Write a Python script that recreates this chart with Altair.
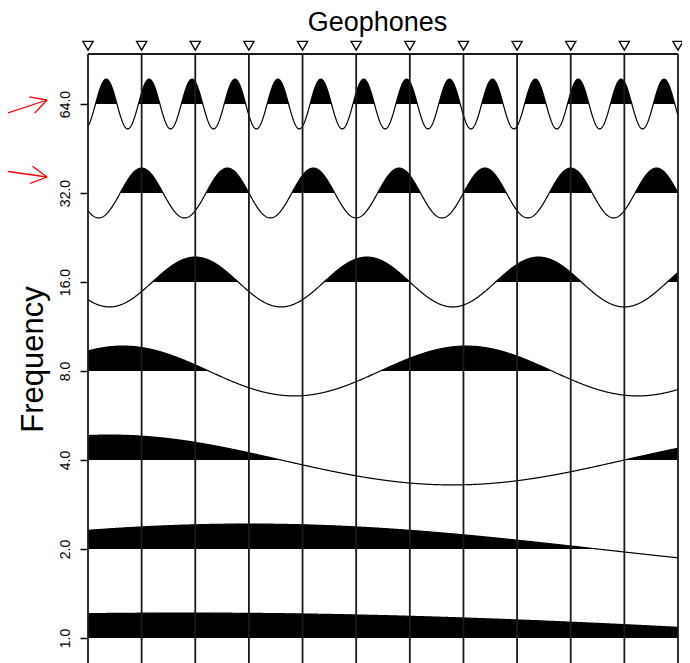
import altair as alt
import numpy as np
import pandas as pd

# ---- values ----
freq_labels = ["1.0", "2.0", "4.0", "8.0", "16.0", "32.0", "64.0"]
trace_level = [0, 1, 2, 3, 4, 5, 6]                 # log2 of frequency
periods = [51.2, 26.0, 12.8, 6.4, 3.2, 1.6, 0.8]    # wavelength, in geophone spacings
peak_at = [1.8, 3.0, 0.4, 0.65, 2.0, 1.0, 0.34]     # position of a crest, in geophone spacings
amplitude = 0.28                                    # in trace spacings
geophones = list(range(12))

# axis extents (trace units / geophone units)
X_MIN, X_MAX = 0, 11
Y_MIN, Y_MAX = -0.281, 6.562
SENSOR_LEVEL = 6.655

# red annotation arrows (page pixels: tail, tip)
arrow_tails = [(8, 113.0), (8, 171.5)]
arrow_tips = [(47, 100.0), (47, 177.0)]

PX_PER_G = 590 / 11
PX_PER_T = 89.0


def to_data(px, py):
    return (px - 88) / PX_PER_G, Y_MAX - (py - 54) / PX_PER_T


# ---- tables ----
rows = []
for lvl, per, pk in zip(trace_level, periods, peak_at):
    xs = np.linspace(X_MIN, X_MAX, 1101)
    w = amplitude * np.cos(2 * np.pi * (xs - pk) / per)
    for xv, wv in zip(xs, w):
        rows.append({"trace": lvl, "x": float(xv), "y": lvl + float(wv),
                     "yfill": lvl + max(float(wv), 0.0), "base": float(lvl)})
traces = pd.DataFrame(rows)

rules = pd.DataFrame({"x": geophones, "y": [Y_MAX] * 12, "y2": [Y_MIN] * 12})
top = pd.DataFrame({"x": [X_MIN], "x2": [X_MAX], "y": [Y_MAX]})
sensors = pd.DataFrame({"x": geophones, "y": [SENSOR_LEVEL] * 12})

seg = []
for (tx, ty), (hx, hy) in zip(arrow_tails, arrow_tips):
    ang = np.arctan2(hy - ty, hx - tx)
    seg.append(((tx, ty), (hx, hy)))
    for d in (+0.5, -0.5):
        bx = hx - 18 * np.cos(ang + d)
        by = hy - 18 * np.sin(ang + d)
        seg.append(((bx, by), (hx, hy)))
arrows = pd.DataFrame([
    {"x": to_data(*a)[0], "y": to_data(*a)[1], "x2": to_data(*b)[0], "y2": to_data(*b)[1]}
    for a, b in seg
])

# ---- scales / axes ----
FONT = "Liberation Sans"
x_scale = alt.Scale(domain=[X_MIN, X_MAX], nice=False, zero=False)
y_scale = alt.Scale(domain=[Y_MIN, Y_MAX], nice=False, zero=False)
x_axis = alt.Axis(orient="top", labels=False, ticks=False, domain=False, grid=False,
                  title="Geophones", titleFont=FONT, titleFontSize=27,
                  titleFontWeight="normal", titleColor="black",
                  titleX=289, titleY=-24, titleAlign="center", titleBaseline="alphabetic")
label_expr = "[" + ",".join("'%s'" % s for s in freq_labels) + "][datum.value]"
y_axis = alt.Axis(values=trace_level, labelExpr=label_expr, grid=False, domain=False,
                  ticks=True, tickSize=8, tickWidth=1.5, tickColor="black",
                  labelAngle=270, labelAlign="center", labelBaseline="alphabetic",
                  labelPadding=11, labelFontSize=14, labelFont=FONT, labelColor="black",
                  title="Frequency", titleFont=FONT, titleFontSize=31,
                  titleFontWeight="normal", titleColor="black", titleAngle=270,
                  titleX=-46, titleY=305, titleAlign="center", titleBaseline="alphabetic")

X = lambda f: alt.X(f, type="quantitative", scale=x_scale, axis=x_axis)
Y = lambda f: alt.Y(f, type="quantitative", scale=y_scale, axis=y_axis)

fill = alt.Chart(traces).mark_area(color="black", interpolate="linear").encode(
    x=X("x"), y=Y("yfill"), y2="base", detail="trace:N")
line = alt.Chart(traces).mark_line(color="black", strokeWidth=1.2).encode(
    x=X("x"), y=Y("y"), detail="trace:N")
vrules = alt.Chart(rules).mark_rule(color="#1a1a1a", strokeWidth=1.8).encode(
    x=X("x"), y=Y("y"), y2="y2")
toprule = alt.Chart(top).mark_rule(color="#1a1a1a", strokeWidth=2).encode(
    x=X("x"), x2="x2", y=Y("y"))
tri = alt.Chart(sensors).mark_point(shape="triangle-down", size=105, filled=False,
                                    color="black", strokeWidth=1.3, opacity=1).encode(
    x=X("x"), y=Y("y"))
arr = alt.Chart(arrows).mark_rule(color="#ff0000", strokeWidth=1.3).encode(
    x=X("x"), x2="x2", y=Y("y"), y2="y2")

chart = alt.layer(fill, line, vrules, toprule, tri, arr).properties(
    width=590, height=609,
    autosize=alt.AutoSizeParams(type="none"),
    padding={"left": 80, "top": 46, "right": 4, "bottom": 0},
).configure_view(stroke=None)

chart.save("out.html", embed_options={"renderer": "svg", "actions": False})
